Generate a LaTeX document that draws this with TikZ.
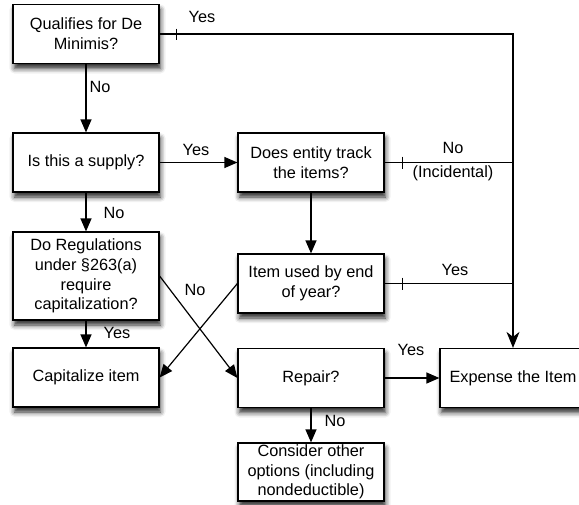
\documentclass[tikz,border=0pt]{standalone}
\usepackage{fontspec}
\setmainfont{Liberation Sans}
\usetikzlibrary{arrows.meta,shadows.blur}
\begin{document}
\begin{tikzpicture}[x=1pt,y=-1pt,
  box/.style={draw=black, line width=1.2pt, fill=white, minimum width=146pt, minimum height=59pt,
    inner sep=0pt, align=center, font=\fontsize{16.3}{19.7}\selectfont,
    blur shadow={shadow xshift=1.5pt, shadow yshift=-5pt, shadow blur radius=5pt, shadow opacity=85}},
  lbl/.style={inner sep=0pt, font=\fontsize{16.3}{19.7}\selectfont},
  conn/.style={line width=1.2pt},
  arr/.style={conn, -{Triangle[length=13pt,width=11pt]}},
  arrS/.style={conn, -{Stealth[length=16pt,width=13pt,inset=5pt]}},
  tick/.style={line width=1pt}]
\useasboundingbox (0,0) rectangle (579,504);
\begin{scope}
\clip (0,0) rectangle (579,504);
\node[box] (dm) at (86,34) {Qualifies for De\\Minimis?};
\node[box] (sup) at (86,162.5) {Is this a supply?};
\node[box, minimum height=88pt] (reg) at (86,276) {Do Regulations\\under §263(a)\\require\\capitalization?};
\node[box] (cap) at (86,377.5) {Capitalize item};
\node[box] (trk) at (311,162.5) {Does entity track\\the items?};
\node[box] (use) at (311,283.5) {Item used by end\\of year?};
\node[box] (rep) at (311,378) {Repair?};
\node[box] (exp) at (513,378) {Expense the Item};
\node[box, minimum height=58pt] (oth) at (311,472) {Consider other\\options (including\\nondeductible)};

\coordinate (j1) at (dm.east -| exp.north);
\coordinate (j2) at (trk.east -| exp.north);
\coordinate (j3) at (use.east -| exp.north);

\draw[arrS] (dm.east) -- (j1) -- (exp.north);
\draw[conn] (trk.east) -- (j2);
\draw[conn] (use.east) -- (j3);

\draw[tick] ([xshift=17pt,yshift=5.5pt]dm.east) -- ++(0pt,-11pt);
\draw[tick] ([xshift=18pt,yshift=6pt]trk.east) -- ++(0pt,-12pt);
\draw[tick] ([xshift=18pt,yshift=6pt]use.east) -- ++(0pt,-12pt);

\draw[arr] (dm.south) -- (sup.north);
\draw[arr] (sup.east) -- (trk.west);
\draw[arr] (sup.south) -- (reg.north);
\draw[arr] (reg.south) -- (cap.north);
\draw[arr] (trk.south) -- (use.north);
\draw[arr] (reg.east) -- (rep.west);
\draw[arr] (use.west) -- (cap.east);
\draw[arr] (rep.east) -- (exp.west);
\draw[arr] (rep.south) -- (oth.north);

\node[lbl] (l1) at (202,17) {Yes};
\node[lbl] (l2) at (100,87) {No};
\node[lbl] (l3) at (196,150) {Yes};
\node[lbl] (l4) at (114,213) {No};
\node[lbl, align=center, font=\fontsize{16.3}{24}\selectfont] (l5) at (453,162) {No\\(Incidental)};
\node[lbl] (l6) at (195,290) {No};
\node[lbl] (l7) at (117,333) {Yes};
\node[lbl] (l8) at (455,270) {Yes};
\node[lbl] (l9) at (411,350) {Yes};
\node[lbl] (l10) at (335,421) {No};
\end{scope}
\end{tikzpicture}
\end{document}
